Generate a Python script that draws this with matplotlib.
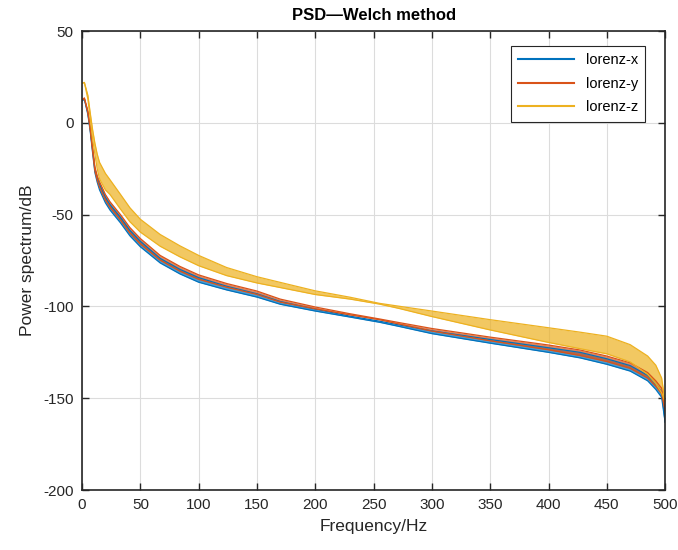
import numpy as np
import matplotlib
matplotlib.use("Agg")
import matplotlib.pyplot as plt

freq = [0, 2, 5, 7, 9, 11, 13, 15, 20, 24, 33, 41, 50, 67, 84, 100, 124, 150, 170,
        200, 230, 255, 272, 300, 350, 400, 427, 450, 470, 485, 492, 497, 500]

# upper / lower edge of the ripple band of each curve (dB)
x_hi = [12, 13, 5.5, -3.5, -14, -25, -29.8, -33.5, -40.5, -44.5, -51.5, -58.5, -64.5,
        -73.8, -79.8, -84.3, -89, -93.1, -97.3, -101.5, -105.3, -108, -110.1, -113.3,
        -118, -122.5, -125, -128.5, -132.2, -137.5, -142.2, -146.5, -163]
x_lo = [12, 13, 4.5, -4.5, -16, -27, -32.3, -36.5, -43.5, -47.5, -54.5, -61.5, -67.5,
        -76.3, -82.3, -86.8, -91, -94.9, -98.8, -102.5, -105.8, -108.6, -110.9, -114.8,
        -120, -125, -128, -131.5, -135.2, -140.5, -145.2, -149.5, -163]

y_hi = [12.5, 13.5, 6.5, -2.5, -13, -24, -28.8, -32, -39, -43, -50, -57, -63,
        -72.2, -78.2, -82.8, -87.5, -91.6, -96, -100.3, -104, -106.8, -108.8, -112,
        -116.7, -121, -123.7, -127, -130.7, -136, -140.5, -144.5, -157]
y_lo = [12.5, 13.5, 5.5, -3.5, -15, -26, -31.2, -35, -42, -46, -53, -60, -66,
        -74.8, -80.8, -85.2, -89.5, -93.4, -97.6, -101.3, -104.6, -107.2, -109.6, -113.4,
        -118.7, -123.6, -126.7, -130, -133.7, -139, -143.5, -147.5, -157]

z_hi = [21.5, 22, 15, 5.5, -3.5, -11, -17, -21.5, -27.5, -31, -39, -46.2, -52.5,
        -60.8, -67, -72.2, -78.8, -83.8, -86.9, -91.5, -95, -98.3, -99.9, -102.5,
        -107.2, -111.6, -114, -116.2, -120.8, -127, -132, -139, -152]
z_lo = [21.5, 22, 13, 2.5, -8.5, -17, -25, -30.5, -36.5, -39, -47, -53.8, -59.5,
        -67.2, -73, -77.8, -83.2, -87.2, -89.7, -93.5, -96, -98.7, -101.1, -105.5,
        -112.8, -119.6, -123, -125.8, -130.2, -137, -142, -147, -152]

labels = ["lorenz-x", "lorenz-y", "lorenz-z"]
colors = ["#0072BD", "#D95319", "#EDB120"]

plt.rcParams["font.family"] = ["Liberation Sans", "DejaVu Sans"]
plt.rcParams["axes.unicode_minus"] = False

fig = plt.figure(figsize=(6.78, 5.5), dpi=100)
ax = fig.add_axes([0.121, 0.109, 0.860, 0.8345])

handles = []
for hi, lo, c, lab in zip([x_hi, y_hi, z_hi], [x_lo, y_lo, z_lo], colors, labels):
    ax.fill_between(freq, lo, hi, color=c, alpha=0.7, linewidth=0)
    ax.plot(freq, hi, color=c, lw=0.9)
    ax.plot(freq, lo, color=c, lw=0.9)
    h, = ax.plot([], [], color=c, lw=1.5, label=lab)
    handles.append(h)

ax.set_xlim(0, 500)
ax.set_ylim(-200, 50)
ax.set_xticks(np.arange(0, 501, 50))
ax.set_yticks(np.arange(-200, 51, 50))
ax.grid(True, color="#dcdcdc", lw=0.8)
ax.set_axisbelow(True)
ax.tick_params(direction="in", length=5, width=1, top=True, right=True,
               labelsize=11, colors="#262626", pad=6)
for s in ax.spines.values():
    s.set_linewidth(1.2)
    s.set_color("#262626")

ax.set_xlabel("Frequency/Hz", fontsize=12.5, color="#262626", labelpad=5)
ax.set_ylabel("Power spectrum/dB", fontsize=12.5, color="#262626", labelpad=6)
ax.set_title("PSD—Welch method", fontsize=12, fontweight="bold", pad=8)

leg = ax.legend(handles=handles, loc="upper right", bbox_to_anchor=(0.9657, 0.9673),
                borderaxespad=0, fancybox=False, framealpha=1, edgecolor="#262626",
                fontsize=10.5, handlelength=3.8, labelspacing=0.65, borderpad=0.5)
leg.get_frame().set_linewidth(0.8)

fig.savefig("out.png", dpi=100)
